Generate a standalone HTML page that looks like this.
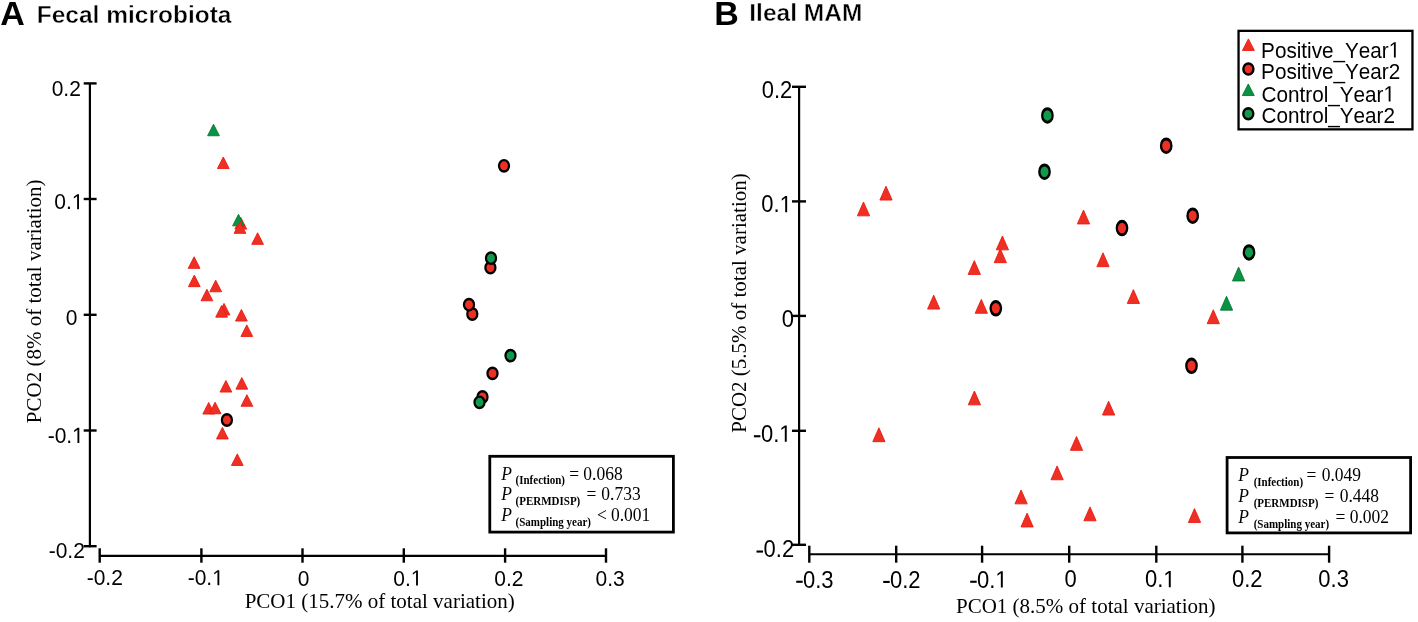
<!DOCTYPE html>
<html><head><meta charset="utf-8"><title>PCoA</title>
<style>html,body{margin:0;padding:0;background:#fff;} svg{display:block;will-change:transform;} text{fill:#000;}</style>
</head><body>
<svg width="1418" height="622" viewBox="0 0 1418 622">
<rect width="1418" height="622" fill="#fff"/>
<text class="t0" x="0.25" y="25.40" style="font-family:'Liberation Sans', sans-serif;font-size:34px;font-kerning:none;font-weight:bold;">A</text>
<text class="t1" x="36.75" y="23.05" style="font-family:'Liberation Sans', sans-serif;font-size:24.5px;font-kerning:none;font-weight:bold;" stroke="#fff" stroke-width="0.4">Fecal microbiota</text>
<text class="t2" x="714.25" y="25.40" style="font-family:'Liberation Sans', sans-serif;font-size:34px;font-kerning:none;font-weight:bold;">B</text>
<text class="t3" x="749.30" y="21.35" style="font-family:'Liberation Sans', sans-serif;font-size:24.5px;font-kerning:none;font-weight:bold;" stroke="#fff" stroke-width="0.4">Ileal MAM</text>
<line x1="89.9" y1="83.4" x2="89.9" y2="547.3000000000001" stroke="#000" stroke-width="2.2"/>
<line x1="83.7" y1="83.4" x2="96.6" y2="83.4" stroke="#000" stroke-width="2.4"/>
<line x1="83.7" y1="199.0" x2="96.6" y2="199.0" stroke="#000" stroke-width="2.4"/>
<line x1="83.7" y1="314.8" x2="96.6" y2="314.8" stroke="#000" stroke-width="2.4"/>
<line x1="83.7" y1="430.5" x2="96.6" y2="430.5" stroke="#000" stroke-width="2.4"/>
<line x1="83.7" y1="546.2" x2="96.6" y2="546.2" stroke="#000" stroke-width="2.4"/>
<line x1="99.7" y1="555.9" x2="606.0" y2="555.9" stroke="#000" stroke-width="2.1"/>
<line x1="99.7" y1="548.3" x2="99.7" y2="562.7" stroke="#000" stroke-width="2.4"/>
<line x1="201.4" y1="548.3" x2="201.4" y2="562.7" stroke="#000" stroke-width="2.4"/>
<line x1="302.5" y1="548.3" x2="302.5" y2="562.7" stroke="#000" stroke-width="2.4"/>
<line x1="403.8" y1="548.3" x2="403.8" y2="562.7" stroke="#000" stroke-width="2.4"/>
<line x1="505.1" y1="548.3" x2="505.1" y2="562.7" stroke="#000" stroke-width="2.4"/>
<line x1="606.0" y1="548.3" x2="606.0" y2="562.7" stroke="#000" stroke-width="2.4"/>
<text class="t4" transform="translate(51.70,95.75) scale(1,1.04)" style="font-family:'Liberation Sans', sans-serif;font-size:21px;font-kerning:none;">0.2</text>
<g transform="translate(54.35,209.35) scale(1,1.04)"><text class="t5" x="0" y="0" style="font-family:'Liberation Sans', sans-serif;font-size:21px;font-kerning:none;">0.</text><path class="one" d="M515 0L515 1237L197 1010L197 1180L530 1409L696 1409L696 0Z" transform="translate(17.491,0) scale(0.010254,-0.010254)"/></g>
<text class="t6" transform="translate(65.70,325.30) scale(1,1.04)" style="font-family:'Liberation Sans', sans-serif;font-size:21px;font-kerning:none;">0</text>
<g transform="translate(47.70,442.90) scale(1,1.04)"><text class="t7" x="0" y="0" style="font-family:'Liberation Sans', sans-serif;font-size:21px;font-kerning:none;">-0.</text><path class="one" d="M515 0L515 1237L197 1010L197 1180L530 1409L696 1409L696 0Z" transform="translate(24.474,0) scale(0.010254,-0.010254)"/></g>
<text class="t8" transform="translate(48.65,557.70) scale(1,1.04)" style="font-family:'Liberation Sans', sans-serif;font-size:21px;font-kerning:none;">-0.2</text>
<text class="t9" transform="translate(86.70,585.30) scale(1,1.04)" style="font-family:'Liberation Sans', sans-serif;font-size:21px;font-kerning:none;">-0.2</text>
<g transform="translate(187.70,585.30) scale(1,1.04)"><text class="t10" x="0" y="0" style="font-family:'Liberation Sans', sans-serif;font-size:21px;font-kerning:none;">-0.</text><path class="one" d="M515 0L515 1237L197 1010L197 1180L530 1409L696 1409L696 0Z" transform="translate(24.474,0) scale(0.010254,-0.010254)"/></g>
<text class="t11" transform="translate(297.70,585.50) scale(1,1.04)" style="font-family:'Liberation Sans', sans-serif;font-size:21px;font-kerning:none;">0</text>
<g transform="translate(393.30,585.50) scale(1,1.04)"><text class="t12" x="0" y="0" style="font-family:'Liberation Sans', sans-serif;font-size:21px;font-kerning:none;">0.</text><path class="one" d="M515 0L515 1237L197 1010L197 1180L530 1409L696 1409L696 0Z" transform="translate(17.491,0) scale(0.010254,-0.010254)"/></g>
<text class="t13" transform="translate(494.30,585.50) scale(1,1.04)" style="font-family:'Liberation Sans', sans-serif;font-size:21px;font-kerning:none;">0.2</text>
<text class="t14" transform="translate(595.55,585.50) scale(1,1.04)" style="font-family:'Liberation Sans', sans-serif;font-size:21px;font-kerning:none;">0.3</text>
<text class="t15" x="244.70" y="607.60" style="font-family:'Liberation Serif', serif;font-size:21px;font-kerning:none;">PCO1 (15.7% of total variation)</text>
<text transform="translate(41.2,423.20) rotate(-90)" style="font-family:'Liberation Serif', serif;font-size:21px;">PCO2 (8% of total variation)</text>
<line x1="799.1" y1="86.8" x2="799.1" y2="545.9" stroke="#000" stroke-width="2.2"/>
<line x1="792.0" y1="86.8" x2="806.0" y2="86.8" stroke="#000" stroke-width="2.4"/>
<line x1="792.0" y1="201.4" x2="806.0" y2="201.4" stroke="#000" stroke-width="2.4"/>
<line x1="792.0" y1="315.9" x2="806.0" y2="315.9" stroke="#000" stroke-width="2.4"/>
<line x1="792.0" y1="430.8" x2="806.0" y2="430.8" stroke="#000" stroke-width="2.4"/>
<line x1="792.0" y1="544.8" x2="806.0" y2="544.8" stroke="#000" stroke-width="2.4"/>
<line x1="809.3" y1="554.3" x2="1329.1" y2="554.3" stroke="#000" stroke-width="2.1"/>
<line x1="809.3" y1="545.7" x2="809.3" y2="562.7" stroke="#000" stroke-width="2.4"/>
<line x1="896.2" y1="545.7" x2="896.2" y2="562.7" stroke="#000" stroke-width="2.4"/>
<line x1="982.1" y1="545.7" x2="982.1" y2="562.7" stroke="#000" stroke-width="2.4"/>
<line x1="1069.2" y1="545.7" x2="1069.2" y2="562.7" stroke="#000" stroke-width="2.4"/>
<line x1="1156.3" y1="545.7" x2="1156.3" y2="562.7" stroke="#000" stroke-width="2.4"/>
<line x1="1242.4" y1="545.7" x2="1242.4" y2="562.7" stroke="#000" stroke-width="2.4"/>
<line x1="1329.1" y1="545.7" x2="1329.1" y2="562.7" stroke="#000" stroke-width="2.4"/>
<text class="t16" transform="translate(761.70,97.75) scale(1,1.08)" style="font-family:'Liberation Sans', sans-serif;font-size:22px;font-kerning:none;">0.2</text>
<g transform="translate(761.35,212.35) scale(1,1.08)"><text class="t17" x="0" y="0" style="font-family:'Liberation Sans', sans-serif;font-size:22px;font-kerning:none;">0.</text><path class="one" d="M515 0L515 1237L197 1010L197 1180L530 1409L696 1409L696 0Z" transform="translate(18.316,0) scale(0.010742,-0.010742)"/></g>
<text class="t18" transform="translate(781.75,327.30) scale(1,1.08)" style="font-family:'Liberation Sans', sans-serif;font-size:22px;font-kerning:none;">0</text>
<rect x="753.90" y="435.20" width="6.5" height="2.1" fill="#000"/>
<g transform="translate(760.95,441.75) scale(1,1.08)"><text class="t19" x="0" y="0" style="font-family:'Liberation Sans', sans-serif;font-size:22px;font-kerning:none;">0.</text><path class="one" d="M515 0L515 1237L197 1010L197 1180L530 1409L696 1409L696 0Z" transform="translate(18.316,0) scale(0.010742,-0.010742)"/></g>
<rect x="756.50" y="550.50" width="6.5" height="2.1" fill="#000"/>
<text class="t20" transform="translate(763.55,557.30) scale(1,1.08)" style="font-family:'Liberation Sans', sans-serif;font-size:22px;font-kerning:none;">0.2</text>
<rect x="796.20" y="580.70" width="6.5" height="2.1" fill="#000"/>
<text class="t21" transform="translate(803.00,587.50) scale(1,1.08)" style="font-family:'Liberation Sans', sans-serif;font-size:22px;font-kerning:none;">0.3</text>
<rect x="883.20" y="580.90" width="6.5" height="2.1" fill="#000"/>
<text class="t22" transform="translate(890.00,587.70) scale(1,1.08)" style="font-family:'Liberation Sans', sans-serif;font-size:22px;font-kerning:none;">0.2</text>
<rect x="970.20" y="580.70" width="6.5" height="2.1" fill="#000"/>
<g transform="translate(977.00,587.50) scale(1,1.08)"><text class="t23" x="0" y="0" style="font-family:'Liberation Sans', sans-serif;font-size:22px;font-kerning:none;">0.</text><path class="one" d="M515 0L515 1237L197 1010L197 1180L530 1409L696 1409L696 0Z" transform="translate(18.316,0) scale(0.010742,-0.010742)"/></g>
<text class="t24" transform="translate(1064.55,587.30) scale(1,1.08)" style="font-family:'Liberation Sans', sans-serif;font-size:22px;font-kerning:none;">0</text>
<g transform="translate(1144.95,587.30) scale(1,1.08)"><text class="t25" x="0" y="0" style="font-family:'Liberation Sans', sans-serif;font-size:22px;font-kerning:none;">0.</text><path class="one" d="M515 0L515 1237L197 1010L197 1180L530 1409L696 1409L696 0Z" transform="translate(18.316,0) scale(0.010742,-0.010742)"/></g>
<text class="t26" transform="translate(1232.00,587.30) scale(1,1.08)" style="font-family:'Liberation Sans', sans-serif;font-size:22px;font-kerning:none;">0.2</text>
<text class="t27" transform="translate(1318.35,587.30) scale(1,1.08)" style="font-family:'Liberation Sans', sans-serif;font-size:22px;font-kerning:none;">0.3</text>
<text class="t28" x="956.00" y="613.20" style="font-family:'Liberation Serif', serif;font-size:21px;font-kerning:none;">PCO1 (8.5% of total variation)</text>
<text transform="translate(746.2,432.80) rotate(-90)" style="font-family:'Liberation Serif', serif;font-size:21px;">PCO2 (5.5% of total variation)</text>
<polygon points="223.30,156.99 217.43,168.55 229.17,168.55" fill="#ee3024" stroke="#ec1a12" stroke-width="0.9" stroke-linejoin="miter" stroke-miterlimit="10"/>
<polygon points="240.80,217.49 234.93,229.05 246.67,229.05" fill="#ee3024" stroke="#ec1a12" stroke-width="0.9" stroke-linejoin="miter" stroke-miterlimit="10"/>
<polygon points="213.50,124.19 207.63,135.75 219.37,135.75" fill="#0b9146" stroke="#037a2c" stroke-width="0.9" stroke-linejoin="miter" stroke-miterlimit="10"/>
<polygon points="238.50,214.29 232.63,225.85 244.37,225.85" fill="#0b9146" stroke="#037a2c" stroke-width="0.9" stroke-linejoin="miter" stroke-miterlimit="10"/>
<polygon points="240.00,221.79 234.13,233.35 245.87,233.35" fill="#ee3024" stroke="#ec1a12" stroke-width="0.9" stroke-linejoin="miter" stroke-miterlimit="10"/>
<polygon points="257.60,232.79 251.73,244.35 263.47,244.35" fill="#ee3024" stroke="#ec1a12" stroke-width="0.9" stroke-linejoin="miter" stroke-miterlimit="10"/>
<polygon points="194.10,256.79 188.23,268.35 199.97,268.35" fill="#ee3024" stroke="#ec1a12" stroke-width="0.9" stroke-linejoin="miter" stroke-miterlimit="10"/>
<polygon points="194.30,275.09 188.43,286.65 200.17,286.65" fill="#ee3024" stroke="#ec1a12" stroke-width="0.9" stroke-linejoin="miter" stroke-miterlimit="10"/>
<polygon points="215.70,280.19 209.83,291.75 221.57,291.75" fill="#ee3024" stroke="#ec1a12" stroke-width="0.9" stroke-linejoin="miter" stroke-miterlimit="10"/>
<polygon points="206.90,289.19 201.03,300.75 212.77,300.75" fill="#ee3024" stroke="#ec1a12" stroke-width="0.9" stroke-linejoin="miter" stroke-miterlimit="10"/>
<polygon points="224.00,303.39 218.13,314.95 229.87,314.95" fill="#ee3024" stroke="#ec1a12" stroke-width="0.9" stroke-linejoin="miter" stroke-miterlimit="10"/>
<polygon points="221.60,305.59 215.73,317.15 227.47,317.15" fill="#ee3024" stroke="#ec1a12" stroke-width="0.9" stroke-linejoin="miter" stroke-miterlimit="10"/>
<polygon points="241.40,309.49 235.53,321.05 247.27,321.05" fill="#ee3024" stroke="#ec1a12" stroke-width="0.9" stroke-linejoin="miter" stroke-miterlimit="10"/>
<polygon points="246.80,324.89 240.93,336.45 252.67,336.45" fill="#ee3024" stroke="#ec1a12" stroke-width="0.9" stroke-linejoin="miter" stroke-miterlimit="10"/>
<polygon points="241.80,377.59 235.93,389.15 247.67,389.15" fill="#ee3024" stroke="#ec1a12" stroke-width="0.9" stroke-linejoin="miter" stroke-miterlimit="10"/>
<polygon points="225.90,380.49 220.03,392.05 231.77,392.05" fill="#ee3024" stroke="#ec1a12" stroke-width="0.9" stroke-linejoin="miter" stroke-miterlimit="10"/>
<polygon points="246.90,394.69 241.03,406.25 252.77,406.25" fill="#ee3024" stroke="#ec1a12" stroke-width="0.9" stroke-linejoin="miter" stroke-miterlimit="10"/>
<polygon points="208.70,402.49 202.83,414.05 214.57,414.05" fill="#ee3024" stroke="#ec1a12" stroke-width="0.9" stroke-linejoin="miter" stroke-miterlimit="10"/>
<polygon points="215.10,402.19 209.23,413.75 220.97,413.75" fill="#ee3024" stroke="#ec1a12" stroke-width="0.9" stroke-linejoin="miter" stroke-miterlimit="10"/>
<polygon points="222.40,427.39 216.53,438.95 228.27,438.95" fill="#ee3024" stroke="#ec1a12" stroke-width="0.9" stroke-linejoin="miter" stroke-miterlimit="10"/>
<polygon points="237.30,453.89 231.43,465.45 243.17,465.45" fill="#ee3024" stroke="#ec1a12" stroke-width="0.9" stroke-linejoin="miter" stroke-miterlimit="10"/>
<circle transform="translate(504.00,165.80) scale(1,1.1220)" r="5.050" fill="#ee3024" stroke="#000" stroke-width="2.2"/>
<circle transform="translate(490.40,267.70) scale(1,1.1220)" r="5.050" fill="#ee3024" stroke="#000" stroke-width="2.2"/>
<circle transform="translate(491.00,258.20) scale(1,1.1220)" r="5.050" fill="#0f9a4c" stroke="#000" stroke-width="2.2"/>
<circle transform="translate(472.30,314.00) scale(1,1.1220)" r="5.050" fill="#ee3024" stroke="#000" stroke-width="2.2"/>
<circle transform="translate(469.00,304.70) scale(1,1.1220)" r="5.050" fill="#ee3024" stroke="#000" stroke-width="2.2"/>
<circle transform="translate(510.50,355.60) scale(1,1.1220)" r="5.050" fill="#0f9a4c" stroke="#000" stroke-width="2.2"/>
<circle transform="translate(492.50,373.40) scale(1,1.1220)" r="5.050" fill="#ee3024" stroke="#000" stroke-width="2.2"/>
<circle transform="translate(482.50,397.00) scale(1,1.1220)" r="5.050" fill="#ee3024" stroke="#000" stroke-width="2.2"/>
<circle transform="translate(479.50,402.30) scale(1,1.1220)" r="5.050" fill="#0f9a4c" stroke="#000" stroke-width="2.2"/>
<circle transform="translate(226.90,420.00) scale(1,1.1220)" r="5.050" fill="#ee3024" stroke="#000" stroke-width="2.2"/>
<polygon points="886.00,186.21 879.89,200.05 892.11,200.05" fill="#ee3024" stroke="#ec1a12" stroke-width="0.9" stroke-linejoin="miter" stroke-miterlimit="10"/>
<polygon points="863.50,202.01 857.39,215.85 869.61,215.85" fill="#ee3024" stroke="#ec1a12" stroke-width="0.9" stroke-linejoin="miter" stroke-miterlimit="10"/>
<polygon points="1000.30,248.81 994.19,262.65 1006.41,262.65" fill="#ee3024" stroke="#ec1a12" stroke-width="0.9" stroke-linejoin="miter" stroke-miterlimit="10"/>
<polygon points="1002.40,236.01 996.29,249.85 1008.51,249.85" fill="#ee3024" stroke="#ec1a12" stroke-width="0.9" stroke-linejoin="miter" stroke-miterlimit="10"/>
<polygon points="974.30,260.61 968.19,274.45 980.41,274.45" fill="#ee3024" stroke="#ec1a12" stroke-width="0.9" stroke-linejoin="miter" stroke-miterlimit="10"/>
<polygon points="933.70,295.21 927.59,309.05 939.81,309.05" fill="#ee3024" stroke="#ec1a12" stroke-width="0.9" stroke-linejoin="miter" stroke-miterlimit="10"/>
<polygon points="981.30,299.41 975.19,313.25 987.41,313.25" fill="#ee3024" stroke="#ec1a12" stroke-width="0.9" stroke-linejoin="miter" stroke-miterlimit="10"/>
<polygon points="1083.50,210.11 1077.39,223.95 1089.61,223.95" fill="#ee3024" stroke="#ec1a12" stroke-width="0.9" stroke-linejoin="miter" stroke-miterlimit="10"/>
<polygon points="1103.00,252.81 1096.89,266.65 1109.11,266.65" fill="#ee3024" stroke="#ec1a12" stroke-width="0.9" stroke-linejoin="miter" stroke-miterlimit="10"/>
<polygon points="1133.40,289.61 1127.29,303.45 1139.51,303.45" fill="#ee3024" stroke="#ec1a12" stroke-width="0.9" stroke-linejoin="miter" stroke-miterlimit="10"/>
<polygon points="1213.30,309.81 1207.19,323.65 1219.41,323.65" fill="#ee3024" stroke="#ec1a12" stroke-width="0.9" stroke-linejoin="miter" stroke-miterlimit="10"/>
<polygon points="974.40,391.01 968.29,404.85 980.51,404.85" fill="#ee3024" stroke="#ec1a12" stroke-width="0.9" stroke-linejoin="miter" stroke-miterlimit="10"/>
<polygon points="878.90,427.81 872.79,441.65 885.01,441.65" fill="#ee3024" stroke="#ec1a12" stroke-width="0.9" stroke-linejoin="miter" stroke-miterlimit="10"/>
<polygon points="1108.60,401.21 1102.49,415.05 1114.71,415.05" fill="#ee3024" stroke="#ec1a12" stroke-width="0.9" stroke-linejoin="miter" stroke-miterlimit="10"/>
<polygon points="1076.50,436.51 1070.39,450.35 1082.61,450.35" fill="#ee3024" stroke="#ec1a12" stroke-width="0.9" stroke-linejoin="miter" stroke-miterlimit="10"/>
<polygon points="1057.10,465.91 1050.99,479.75 1063.21,479.75" fill="#ee3024" stroke="#ec1a12" stroke-width="0.9" stroke-linejoin="miter" stroke-miterlimit="10"/>
<polygon points="1021.10,490.01 1014.99,503.85 1027.21,503.85" fill="#ee3024" stroke="#ec1a12" stroke-width="0.9" stroke-linejoin="miter" stroke-miterlimit="10"/>
<polygon points="1027.10,513.11 1020.99,526.95 1033.21,526.95" fill="#ee3024" stroke="#ec1a12" stroke-width="0.9" stroke-linejoin="miter" stroke-miterlimit="10"/>
<polygon points="1090.00,506.91 1083.89,520.75 1096.11,520.75" fill="#ee3024" stroke="#ec1a12" stroke-width="0.9" stroke-linejoin="miter" stroke-miterlimit="10"/>
<polygon points="1194.50,508.61 1188.39,522.45 1200.61,522.45" fill="#ee3024" stroke="#ec1a12" stroke-width="0.9" stroke-linejoin="miter" stroke-miterlimit="10"/>
<polygon points="1238.60,267.11 1232.49,280.95 1244.71,280.95" fill="#0b9146" stroke="#037a2c" stroke-width="0.9" stroke-linejoin="miter" stroke-miterlimit="10"/>
<polygon points="1226.50,296.31 1220.39,310.15 1232.61,310.15" fill="#0b9146" stroke="#037a2c" stroke-width="0.9" stroke-linejoin="miter" stroke-miterlimit="10"/>
<circle transform="translate(995.80,308.30) scale(1,1.2992)" r="5.200" fill="#ee3024" stroke="#000" stroke-width="2.3"/>
<circle transform="translate(1166.20,145.70) scale(1,1.2992)" r="5.200" fill="#ee3024" stroke="#000" stroke-width="2.3"/>
<circle transform="translate(1192.70,215.70) scale(1,1.2992)" r="5.200" fill="#ee3024" stroke="#000" stroke-width="2.3"/>
<circle transform="translate(1122.00,228.10) scale(1,1.2992)" r="5.200" fill="#ee3024" stroke="#000" stroke-width="2.3"/>
<circle transform="translate(1191.50,365.80) scale(1,1.2992)" r="5.200" fill="#ee3024" stroke="#000" stroke-width="2.3"/>
<circle transform="translate(1047.40,115.40) scale(1,1.2992)" r="5.200" fill="#0f9a4c" stroke="#000" stroke-width="2.3"/>
<circle transform="translate(1044.50,171.70) scale(1,1.2992)" r="5.200" fill="#0f9a4c" stroke="#000" stroke-width="2.3"/>
<circle transform="translate(1249.00,252.40) scale(1,1.2992)" r="5.200" fill="#0f9a4c" stroke="#000" stroke-width="2.3"/>
<rect x="1238.55" y="30.85" width="173.9" height="98.5" fill="none" stroke="#000" stroke-width="2.3"/>
<polygon points="1248.40,38.88 1242.44,50.45 1254.36,50.45" fill="#ee3024" stroke="#ec1a12" stroke-width="0.9" stroke-linejoin="miter" stroke-miterlimit="10"/>
<circle transform="translate(1248.40,69.00) scale(1,1.0800)" r="5.050" fill="#ee3024" stroke="#000" stroke-width="2.4"/>
<polygon points="1248.30,83.98 1242.34,95.55 1254.26,95.55" fill="#0b9146" stroke="#037a2c" stroke-width="0.9" stroke-linejoin="miter" stroke-miterlimit="10"/>
<circle transform="translate(1248.30,113.80) scale(1,1.0806)" r="5.000" fill="#0f9a4c" stroke="#000" stroke-width="2.4"/>
<g transform="translate(1261.10,57.50) scale(1,1.07)"><text class="t29" x="0" y="0" style="font-family:'Liberation Sans', sans-serif;font-size:20.7px;font-kerning:none;">Positive_Year</text><path class="one" d="M515 0L515 1237L197 1010L197 1180L530 1409L696 1409L696 0Z" transform="translate(127.614,0) scale(0.010107,-0.010107)"/></g>
<text class="t30" transform="translate(1261.10,79.00) scale(1,1.07)" style="font-family:'Liberation Sans', sans-serif;font-size:20.7px;font-kerning:none;">Positive_Year2</text>
<g transform="translate(1261.60,101.50) scale(1,1.07)"><text class="t31" x="0" y="0" style="font-family:'Liberation Sans', sans-serif;font-size:20.7px;font-kerning:none;">Control_Year</text><path class="one" d="M515 0L515 1237L197 1010L197 1180L530 1409L696 1409L696 0Z" transform="translate(121.881,0) scale(0.010107,-0.010107)"/></g>
<text class="t32" transform="translate(1261.60,123.00) scale(1,1.07)" style="font-family:'Liberation Sans', sans-serif;font-size:20.7px;font-kerning:none;">Control_Year2</text>
<rect x="489.80" y="456.30" width="183.60" height="75.80" fill="none" stroke="#000" stroke-width="2.8"/>
<text class="t33" transform="translate(501.15,479.80) scale(1,1.1)" style="font-family:'Liberation Serif', serif;font-size:17.5px;font-kerning:none;font-style:italic;">P</text>
<text class="t34" transform="translate(515.55,484.40) scale(1,1.08)" style="font-family:'Liberation Serif', serif;font-size:11px;font-kerning:none;font-weight:bold;">(Infection)</text>
<text class="t35" transform="translate(569.30,479.80) scale(1,1.1)" style="font-family:'Liberation Serif', serif;font-size:17.5px;font-kerning:none;">=</text>
<text class="t36" transform="translate(583.30,479.80) scale(1,1.1)" style="font-family:'Liberation Serif', serif;font-size:17.5px;font-kerning:none;">0.068</text>
<text class="t37" transform="translate(501.15,500.30) scale(1,1.1)" style="font-family:'Liberation Serif', serif;font-size:17.5px;font-kerning:none;font-style:italic;">P</text>
<text class="t38" transform="translate(515.55,505.30) scale(1,1.08)" style="font-family:'Liberation Serif', serif;font-size:11px;font-kerning:none;font-weight:bold;">(PERMDISP)</text>
<text class="t39" transform="translate(586.60,500.30) scale(1,1.1)" style="font-family:'Liberation Serif', serif;font-size:17.5px;font-kerning:none;">=</text>
<text class="t40" transform="translate(601.35,500.30) scale(1,1.1)" style="font-family:'Liberation Serif', serif;font-size:17.5px;font-kerning:none;">0.733</text>
<text class="t41" transform="translate(501.15,521.00) scale(1,1.1)" style="font-family:'Liberation Serif', serif;font-size:17.5px;font-kerning:none;font-style:italic;">P</text>
<text class="t42" transform="translate(515.55,526.00) scale(1,1.08)" style="font-family:'Liberation Serif', serif;font-size:11px;font-kerning:none;font-weight:bold;">(Sampling year)</text>
<text class="t43" transform="translate(597.05,521.00) scale(1,1.1)" style="font-family:'Liberation Serif', serif;font-size:17.5px;font-kerning:none;">&lt;</text>
<text class="t44" transform="translate(611.00,521.00) scale(1,1.1)" style="font-family:'Liberation Serif', serif;font-size:17.5px;font-kerning:none;">0.001</text>
<rect x="1227.10" y="457.50" width="183.50" height="75.40" fill="none" stroke="#000" stroke-width="2.8"/>
<text class="t45" transform="translate(1238.20,481.30) scale(1,1.1)" style="font-family:'Liberation Serif', serif;font-size:17.5px;font-kerning:none;font-style:italic;">P</text>
<text class="t46" transform="translate(1253.65,485.90) scale(1,1.08)" style="font-family:'Liberation Serif', serif;font-size:11px;font-kerning:none;font-weight:bold;">(Infection)</text>
<text class="t47" transform="translate(1306.40,481.30) scale(1,1.1)" style="font-family:'Liberation Serif', serif;font-size:17.5px;font-kerning:none;">=</text>
<text class="t48" transform="translate(1321.65,481.30) scale(1,1.1)" style="font-family:'Liberation Serif', serif;font-size:17.5px;font-kerning:none;">0.049</text>
<text class="t49" transform="translate(1238.20,501.90) scale(1,1.1)" style="font-family:'Liberation Serif', serif;font-size:17.5px;font-kerning:none;font-style:italic;">P</text>
<text class="t50" transform="translate(1253.65,506.50) scale(1,1.08)" style="font-family:'Liberation Serif', serif;font-size:11px;font-kerning:none;font-weight:bold;">(PERMDISP)</text>
<text class="t51" transform="translate(1324.55,501.90) scale(1,1.1)" style="font-family:'Liberation Serif', serif;font-size:17.5px;font-kerning:none;">=</text>
<text class="t52" transform="translate(1339.70,501.90) scale(1,1.1)" style="font-family:'Liberation Serif', serif;font-size:17.5px;font-kerning:none;">0.448</text>
<text class="t53" transform="translate(1238.20,523.30) scale(1,1.1)" style="font-family:'Liberation Serif', serif;font-size:17.5px;font-kerning:none;font-style:italic;">P</text>
<text class="t54" transform="translate(1253.65,527.90) scale(1,1.08)" style="font-family:'Liberation Serif', serif;font-size:11px;font-kerning:none;font-weight:bold;">(Sampling year)</text>
<text class="t55" transform="translate(1335.40,523.30) scale(1,1.1)" style="font-family:'Liberation Serif', serif;font-size:17.5px;font-kerning:none;">=</text>
<text class="t56" transform="translate(1349.70,523.30) scale(1,1.1)" style="font-family:'Liberation Serif', serif;font-size:17.5px;font-kerning:none;">0.002</text>
</svg>
</body></html>
